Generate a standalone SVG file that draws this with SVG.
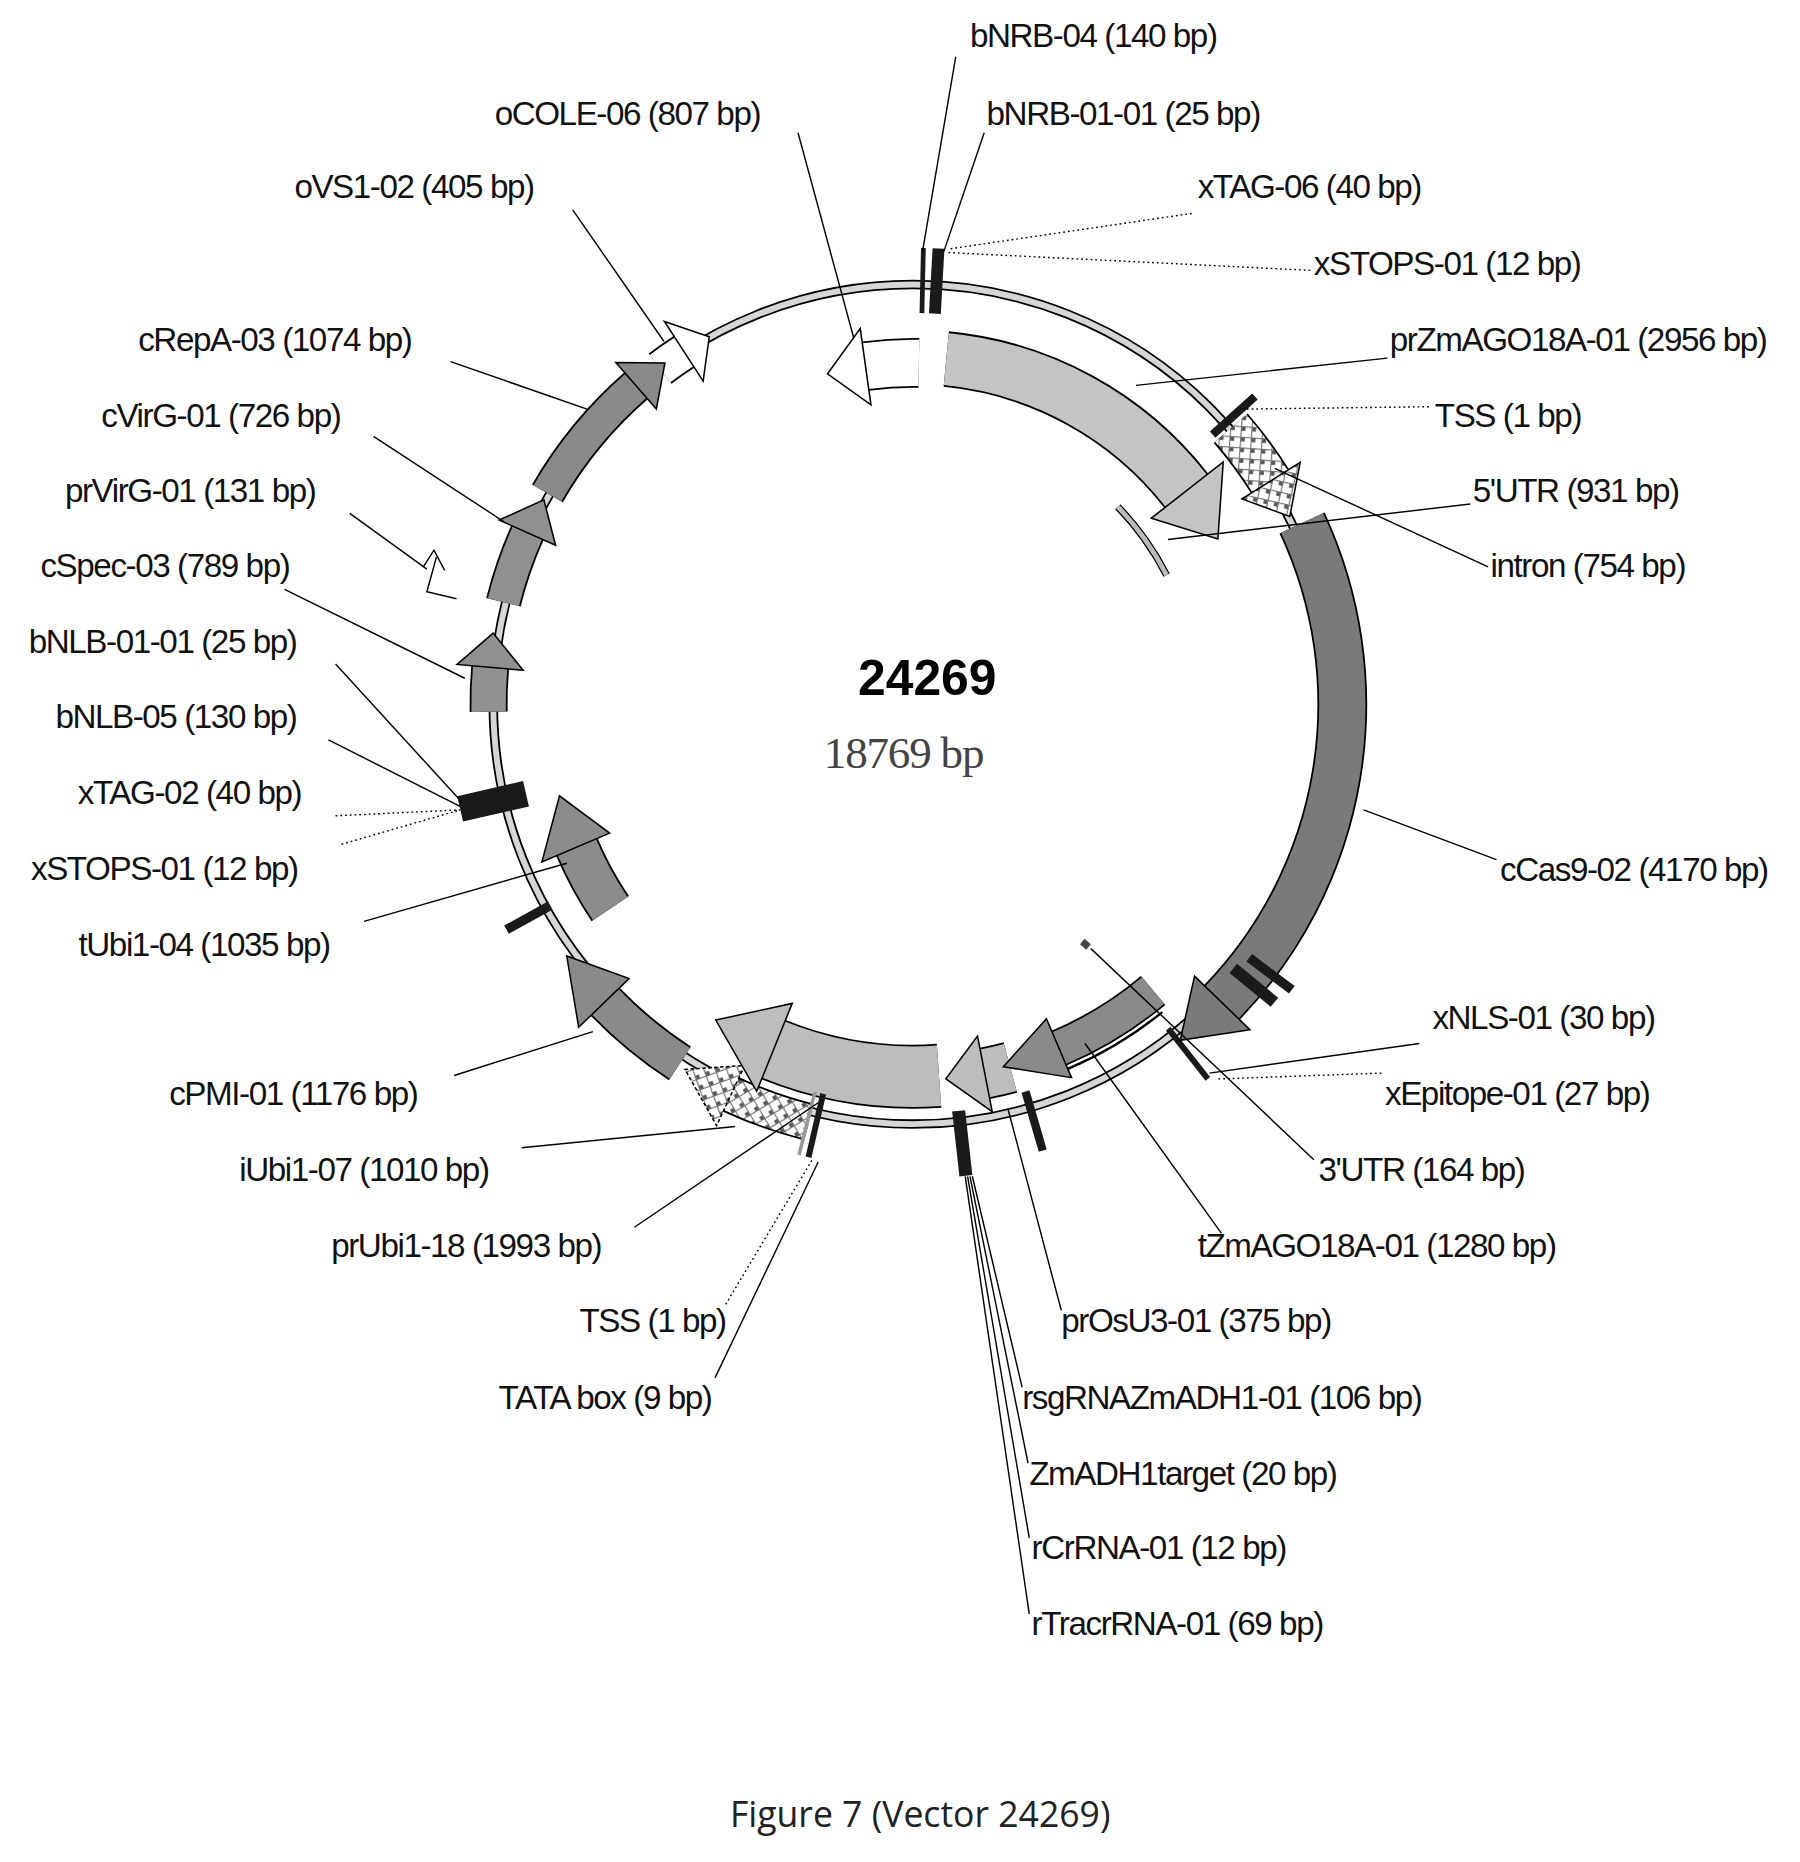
<svg xmlns="http://www.w3.org/2000/svg" width="1800" height="1862" viewBox="0 0 1800 1862">
<defs>
<pattern id="chk" width="9" height="9" patternUnits="userSpaceOnUse" patternTransform="rotate(45)">
<rect width="9" height="9" fill="#fff"/><rect x="0" y="0" width="4" height="4" fill="#555"/><rect x="0" y="0" width="9" height="1" fill="#777"/><rect x="0" y="0" width="1" height="9" fill="#777"/>
</pattern>
<style>
.bo{fill:none;stroke:#000}
.arc{fill:none}
.hd{stroke:#000;stroke-width:1.3;stroke-linejoin:miter}
.bar{fill:#1a1a1a}
.ld{stroke:#000;stroke-width:1.2;fill:none}
.dt{stroke:#000;stroke-width:1.2;fill:none;stroke-dasharray:1.5 2.5}
.lb{font-family:"Liberation Sans",Arial,sans-serif;font-size:28px;letter-spacing:-1.2px;fill:#111}
.r{text-anchor:end}
</style>
</defs>
<rect width="1800" height="1862" fill="#fff"/>
<g transform="scale(1.18577)">
<g id="backbone">
<circle cx="770" cy="594" r="354" fill="none" stroke="#000" stroke-width="8"/>
<circle cx="770" cy="594" r="354" fill="none" stroke="#d6d6d6" stroke-width="5"/>
</g>
<g id="prZmAGO18A">
<circle class="bo" cx="770" cy="594" r="292.5" stroke-width="47" pathLength="360" stroke-dasharray="46.5 360" transform="rotate(-84.5 770 594)"/>
<circle class="arc" cx="770" cy="594" r="292.5" stroke="#c4c4c4" stroke-width="44" pathLength="360" stroke-dasharray="46.5 360" transform="rotate(-84.5 770 594)"/>
<polygon class="hd" fill="#c4c4c4" points="770,339 770,262 818.3,305.5" transform="rotate(52 770 594)"/>
</g>
<g id="oCOLE">
<circle class="bo" cx="770" cy="594" r="288" stroke-width="42" pathLength="360" stroke-dasharray="9 360" transform="rotate(-98 770 594)"/>
<circle class="arc" cx="770" cy="594" r="288" stroke="#fff" stroke-width="39" pathLength="360" stroke-dasharray="9 360" transform="rotate(-98 770 594)"/>
<polygon class="hd" fill="#fff" points="770,339 770,274 737.4,307.9" transform="rotate(-8 770 594)"/>
</g>
<g id="oVS1">
<circle class="bo" cx="770" cy="594" r="354.5" stroke-width="32" pathLength="360" stroke-dasharray="4 360" transform="rotate(-127 770 594)"/>
<circle class="arc" cx="770" cy="594" r="354.5" stroke="#fff" stroke-width="29" pathLength="360" stroke-dasharray="4 360" transform="rotate(-127 770 594)"/>
<polygon class="hd" fill="#fff" points="770,269 770,209 794.7,240.4" transform="rotate(-33 770 594)"/>
</g>
<g id="cRepA">
<circle class="bo" cx="770" cy="594" r="356" stroke-width="30" pathLength="360" stroke-dasharray="19 360" transform="rotate(-150 770 594)"/>
<circle class="arc" cx="770" cy="594" r="356" stroke="#8a8a8a" stroke-width="27" pathLength="360" stroke-dasharray="19 360" transform="rotate(-150 770 594)"/>
<polygon class="hd" fill="#8a8a8a" points="770,264 770,212 801,239.4" transform="rotate(-41 770 594)"/>
</g>
<g id="cVirG">
<circle class="bo" cx="770" cy="594" r="356" stroke-width="30" pathLength="360" stroke-dasharray="10 360" transform="rotate(-166 770 594)"/>
<circle class="arc" cx="770" cy="594" r="356" stroke="#909090" stroke-width="27" pathLength="360" stroke-dasharray="10 360" transform="rotate(-166 770 594)"/>
<polygon class="hd" fill="#909090" points="770,264 770,212 801,239.4" transform="rotate(-66 770 594)"/>
</g>
<g id="prVirG">
<polyline class="ld" points="385,505 360,499 368,470"/>
<polyline class="ld" points="357,478 366,464 375,481"/>
</g>
<g id="cSpec">
<circle class="bo" cx="770" cy="594" r="358" stroke-width="32" pathLength="360" stroke-dasharray="6 360" transform="rotate(-181 770 594)"/>
<circle class="arc" cx="770" cy="594" r="358" stroke="#909090" stroke-width="29" pathLength="360" stroke-dasharray="6 360" transform="rotate(-181 770 594)"/>
<polygon class="hd" fill="#909090" points="770,264 770,208 799,236" transform="rotate(-85 770 594)"/>
</g>
<g id="bNLB"><rect class="bar" x="759" y="202" width="22" height="57" transform="rotate(-103 770 594)"/></g>
<g id="tUbi1-04">
<circle class="bo" cx="770" cy="594" r="308" stroke-width="38" pathLength="360" stroke-dasharray="11 360" transform="rotate(-214 770 594)"/>
<circle class="arc" cx="770" cy="594" r="308" stroke="#8c8c8c" stroke-width="35" pathLength="360" stroke-dasharray="11 360" transform="rotate(-214 770 594)"/>
<polygon class="hd" fill="#8c8c8c" points="770,316 770,254 815.5,289.4" transform="rotate(-113 770 594)"/>
</g>
<g id="bar119"><rect class="bar" x="766" y="202" width="8" height="42" transform="rotate(-119 770 594)"/></g>
<g id="cPMI">
<circle class="bo" cx="770" cy="594" r="361" stroke-width="34" pathLength="360" stroke-dasharray="13 360" transform="rotate(-237 770 594)"/>
<circle class="arc" cx="770" cy="594" r="361" stroke="#8a8a8a" stroke-width="31" pathLength="360" stroke-dasharray="13 360" transform="rotate(-237 770 594)"/>
<polygon class="hd" fill="#8a8a8a" points="770,261 770,202 820.2,236.5" transform="rotate(-134 770 594)"/>
</g>
<g id="iUbi1-07">
<circle class="bo" cx="770" cy="594" r="363" stroke-width="32" pathLength="360" stroke-dasharray="11 360" transform="rotate(-256 770 594)"/>
<circle class="arc" cx="770" cy="594" r="363" stroke="url(#chk)" stroke-width="29" pathLength="360" stroke-dasharray="11 360" transform="rotate(-256 770 594)"/>
<polygon class="hd" fill="url(#chk)" stroke-dasharray="3 2" points="770,258 770,202 814.2,233.7" transform="rotate(-155 770 594)"/>
</g>
<g id="prUbi1-18">
<circle class="bo" cx="770" cy="594" r="314" stroke-width="54" pathLength="360" stroke-dasharray="26 360" transform="rotate(86 770 594)"/>
<circle class="arc" cx="770" cy="594" r="314" stroke="#bdbdbd" stroke-width="51" pathLength="360" stroke-dasharray="26 360" transform="rotate(86 770 594)"/>
<polygon class="hd" fill="#bdbdbd" points="770,322 770,242 824.5,284.8" transform="rotate(202 770 594)"/>
</g>
<g id="TSS-TATA">
<rect class="bar" x="767.5" y="202" width="5" height="55" transform="rotate(-167 770 594)"/>
<rect fill="#999" x="768.5" y="202" width="3" height="55" transform="rotate(-165.8 770 594)"/>
</g>
<g id="rsgRNA"><rect class="bar" x="764.5" y="194" width="11" height="55" transform="rotate(173.6 770 594)"/></g>
<g id="prOsU3">
<circle class="bo" cx="770" cy="594" r="317" stroke-width="44" pathLength="360" stroke-dasharray="4 360" transform="rotate(75 770 594)"/>
<circle class="arc" cx="770" cy="594" r="317" stroke="#bdbdbd" stroke-width="41" pathLength="360" stroke-dasharray="4 360" transform="rotate(75 770 594)"/>
<polygon class="hd" fill="#bdbdbd" points="770,309 770,244 803.1,278.7" transform="rotate(169 770 594)"/>
</g>
<g id="bar164"><rect class="bar" x="766.5" y="202" width="7" height="52" transform="rotate(163.8 770 594)"/></g>
<g id="tZmAGO18A">
<circle class="bo" cx="770" cy="594" r="315" stroke-width="32" pathLength="360" stroke-dasharray="17 360" transform="rotate(50 770 594)"/>
<circle class="arc" cx="770" cy="594" r="315" stroke="#8a8a8a" stroke-width="29" pathLength="360" stroke-dasharray="17 360" transform="rotate(50 770 594)"/>
<polygon class="hd" fill="#8a8a8a" points="770,306 770,252 819.3,282.9" transform="rotate(157 770 594)"/>
</g>
<g id="UTR3">
<circle class="arc" cx="770" cy="594" r="334" stroke="#000" stroke-width="2" pathLength="360" stroke-dasharray="16 360" transform="rotate(51 770 594)"/>
<rect fill="#444" x="912" y="793" width="7" height="6" transform="rotate(40 915 796)"/>
</g>
<g id="xNLS"><rect class="bar" x="767.5" y="192" width="5" height="54" transform="rotate(141.8 770 594)"/></g>
<g id="cCas9">
<circle class="bo" cx="770" cy="594" r="362" stroke-width="42" pathLength="360" stroke-dasharray="69 360" transform="rotate(-25 770 594)"/>
<circle class="arc" cx="770" cy="594" r="362" stroke="#7a7a7a" stroke-width="39" pathLength="360" stroke-dasharray="69 360" transform="rotate(-25 770 594)"/>
<polygon class="hd" fill="#7a7a7a" points="770,264 770,199 817.2,235.1" transform="rotate(134 770 594)"/>
<rect class="bar" x="766" y="194" width="8" height="45" transform="rotate(127 770 594)"/>
<rect class="bar" x="765" y="199" width="10" height="45" transform="rotate(129.5 770 594)"/>
</g>
<g id="TSS1"><rect class="bar" x="766.5" y="206" width="7" height="48" transform="rotate(48 770 594)"/></g>
<g id="intron">
<circle class="bo" cx="770" cy="594" r="355" stroke-width="38" pathLength="360" stroke-dasharray="9 360" transform="rotate(-41 770 594)"/>
<circle class="arc" cx="770" cy="594" r="355" stroke="url(#chk)" stroke-width="35" pathLength="360" stroke-dasharray="9 360" transform="rotate(-41 770 594)"/>
<polygon class="hd" fill="url(#chk)" points="770,267 770,209 804,240.6" transform="rotate(58 770 594)"/>
</g>
<g id="UTR5">
<circle class="arc" cx="770" cy="594" r="240" stroke="#000" stroke-width="6" pathLength="360" stroke-dasharray="17 360" transform="rotate(-44 770 594)"/>
<circle class="arc" cx="770" cy="594" r="240" stroke="#bbb" stroke-width="4" pathLength="360" stroke-dasharray="17 360" transform="rotate(-44 770 594)"/>
</g>
<g id="bNRB">
<rect class="bar" x="768" y="264" width="4" height="55" transform="rotate(1.3 770 594) translate(0 -55)"/>
<rect class="bar" x="765" y="209" width="10" height="55" transform="rotate(3.2 770 594)"/>
</g>
<g id="connectors">
<line class="ld" x1="806" y1="48" x2="778" y2="212"/>
<line class="ld" x1="830" y1="112" x2="796" y2="212"/>
<line class="dt" x1="1005" y1="180" x2="800" y2="210"/>
<line class="dt" x1="1105" y1="228" x2="800" y2="213"/>
<line class="ld" x1="1170" y1="302" x2="958" y2="325"/>
<line class="dt" x1="1205" y1="343" x2="1048" y2="345"/>
<line class="ld" x1="1240" y1="425" x2="985" y2="455"/>
<line class="ld" x1="1255" y1="478" x2="1075" y2="395"/>
<line class="ld" x1="1262" y1="725" x2="1150" y2="683"/>
<line class="ld" x1="1197" y1="880" x2="1020" y2="905"/>
<line class="dt" x1="1165" y1="905" x2="1025" y2="910"/>
<line class="ld" x1="1108" y1="978" x2="920" y2="800"/>
<line class="ld" x1="1030" y1="1040" x2="915" y2="880"/>
<line class="ld" x1="895" y1="1105" x2="850" y2="935"/>
<line class="ld" x1="862" y1="1170" x2="820" y2="992"/>
<line class="ld" x1="867" y1="1234" x2="818" y2="992"/>
<line class="ld" x1="868" y1="1297" x2="816" y2="992"/>
<line class="ld" x1="868" y1="1361" x2="814" y2="992"/>
<line class="ld" x1="603" y1="1162" x2="690" y2="980"/>
<line class="dt" x1="612" y1="1100" x2="685" y2="978"/>
<line class="ld" x1="535" y1="1035" x2="690" y2="930"/>
<line class="ld" x1="440" y1="968" x2="620" y2="950"/>
<line class="ld" x1="383" y1="907" x2="500" y2="870"/>
<line class="ld" x1="307" y1="777" x2="478" y2="728"/>
<line class="dt" x1="288" y1="712" x2="388" y2="683"/>
<line class="dt" x1="283" y1="688" x2="388" y2="683"/>
<line class="ld" x1="277" y1="624" x2="388" y2="680"/>
<line class="ld" x1="283" y1="560" x2="390" y2="677"/>
<line class="ld" x1="240" y1="497" x2="392" y2="572"/>
<line class="ld" x1="295" y1="433" x2="360" y2="480"/>
<line class="ld" x1="315" y1="368" x2="425" y2="440"/>
<line class="ld" x1="380" y1="305" x2="495" y2="345"/>
<line class="ld" x1="483" y1="177" x2="560" y2="288"/>
<line class="ld" x1="673" y1="112" x2="720" y2="285"/>
</g>
<g id="labels" class="lb">
<text x="818" y="40">bNRB-04 (140 bp)</text>
<text x="832" y="105">bNRB-01-01 (25 bp)</text>
<text x="1010" y="167">xTAG-06 (40 bp)</text>
<text x="1108" y="232">xSTOPS-01 (12 bp)</text>
<text x="1172" y="296">prZmAGO18A-01 (2956 bp)</text>
<text x="1210" y="360">TSS (1 bp)</text>
<text x="1242" y="423">5'UTR (931 bp)</text>
<text x="1257" y="487">intron (754 bp)</text>
<text x="1265" y="743">cCas9-02 (4170 bp)</text>
<text x="1208" y="868">xNLS-01 (30 bp)</text>
<text x="1168" y="932">xEpitope-01 (27 bp)</text>
<text x="1112" y="996">3'UTR (164 bp)</text>
<text x="1010" y="1060">tZmAGO18A-01 (1280 bp)</text>
<text x="895" y="1123">prOsU3-01 (375 bp)</text>
<text x="862" y="1188">rsgRNAZmADH1-01 (106 bp)</text>
<text x="868" y="1252">ZmADH1target (20 bp)</text>
<text x="870" y="1315">rCrRNA-01 (12 bp)</text>
<text x="870" y="1379">rTracrRNA-01 (69 bp)</text>
<text class="r" x="641" y="105">oCOLE-06 (807 bp)</text>
<text class="r" x="450" y="167">oVS1-02 (405 bp)</text>
<text class="r" x="347" y="296">cRepA-03 (1074 bp)</text>
<text class="r" x="287" y="360">cVirG-01 (726 bp)</text>
<text class="r" x="266" y="423">prVirG-01 (131 bp)</text>
<text class="r" x="244" y="487">cSpec-03 (789 bp)</text>
<text class="r" x="250" y="551">bNLB-01-01 (25 bp)</text>
<text class="r" x="250" y="614">bNLB-05 (130 bp)</text>
<text class="r" x="254" y="678">xTAG-02 (40 bp)</text>
<text class="r" x="251" y="742">xSTOPS-01 (12 bp)</text>
<text class="r" x="278" y="806">tUbi1-04 (1035 bp)</text>
<text class="r" x="352" y="932">cPMI-01 (1176 bp)</text>
<text class="r" x="412" y="996">iUbi1-07 (1010 bp)</text>
<text class="r" x="507" y="1060">prUbi1-18 (1993 bp)</text>
<text class="r" x="612" y="1123">TSS (1 bp)</text>
<text class="r" x="600" y="1188">TATA box (9 bp)</text>
</g>
<g id="title">
<text x="782" y="586" text-anchor="middle" font-family="Liberation Sans,Arial,sans-serif" font-weight="bold" font-size="42">24269</text>
<text x="762" y="648" text-anchor="middle" font-family="Liberation Serif,serif" font-size="38" fill="#444" letter-spacing="-1">18769 bp</text>
<text x="776" y="1541" text-anchor="middle" font-family="Open Sans,sans-serif" font-size="30" fill="#222">Figure 7 (Vector 24269)</text>
</g>
</g>
</svg>
